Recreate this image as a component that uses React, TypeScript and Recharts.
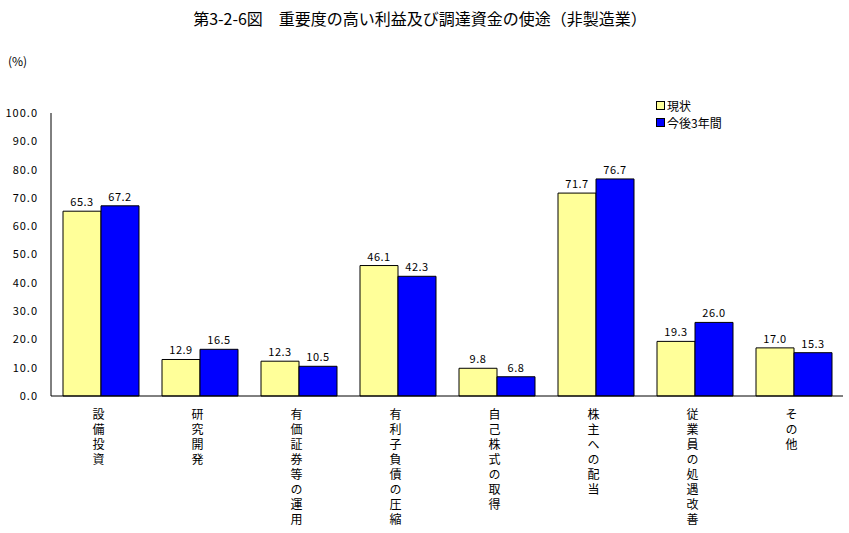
import React from 'react';
import { BarChart, Bar, XAxis, YAxis, LabelList } from 'recharts';

const categories = ['設備投資', '研究開発', '有価証券等の運用', '有利子負債の圧縮', '自己株式の取得', '株主への配当', '従業員の処遇改善', 'その他'];
const current = [65.3, 12.9, 12.3, 46.1, 9.8, 71.7, 19.3, 17.0];
const next3 = [67.2, 16.5, 10.5, 42.3, 6.8, 76.7, 26.0, 15.3];
const yTicks = [0, 10, 20, 30, 40, 50, 60, 70, 80, 90, 100];

const data = categories.map((name, i) => ({ name, current: current[i], next3: next3[i] }));

const FONT = "'Noto Sans CJK JP', sans-serif";

const VerticalTick = (props: any) => {
    const { x, y, payload } = props;
    return (
        <text x={x - 2} y={y + 4} fontSize={12} fill="#000" fontFamily={FONT}
            style={{ writingMode: 'vertical-rl', textOrientation: 'upright', letterSpacing: 3 }}>
            {payload.value}
        </text>
    );
};

const LegendBox = () => (
    <div style={{ position: 'absolute', left: 656, top: 97, fontFamily: FONT, fontSize: 12, lineHeight: '17px', color: '#000' }}>
        {[['#FFFF99', '現状'], ['#0000FF', '今後3年間']].map(([c, t]) => (
            <div key={t} style={{ display: 'flex', alignItems: 'center' }}>
                <span style={{ display: 'inline-block', width: 7, height: 7, background: c, border: '1px solid #000', marginRight: 2 }} />
                {t}
            </div>
        ))}
    </div>
);

const labelStyle = { fontSize: 11, fill: '#000', fontFamily: FONT, letterSpacing: 0.5 };

export default function App() {
    return (
        <div style={{ position: 'absolute', left: 0, top: 0, width: 849, height: 533, background: '#fff' }}>
            <div style={{ position: 'absolute', top: 6, left: 0, width: 840, textAlign: 'center', fontFamily: FONT, fontSize: 16, color: '#000' }}>
                第3-2-6図　重要度の高い利益及び調達資金の使途（非製造業）
            </div>
            <div style={{ position: 'absolute', top: 52, left: 8, fontFamily: FONT, fontSize: 12, color: '#000' }}>(%)</div>
            <LegendBox />
            <BarChart width={849} height={533} data={data} barGap={0} barCategoryGap={12}
                margin={{ top: 113, right: 6, left: 0, bottom: 0 }}>
                <XAxis dataKey="name" height={137} tickLine={false} tick={<VerticalTick />} interval={0}
                    axisLine={{ stroke: '#000' }} />
                <YAxis width={51} domain={[0, 100]} ticks={yTicks} tickLine={false} axisLine={{ stroke: '#000' }}
                    tickMargin={7} interval={0}
                    tick={{ fontSize: 11, fill: '#000', fontFamily: FONT, letterSpacing: 1 }}
                    tickFormatter={(v: number) => v.toFixed(1)} />
                <Bar dataKey="current" name="現状" fill="#FFFF99" stroke="#000" strokeWidth={1} isAnimationActive={false}>
                    <LabelList dataKey="current" position="top" offset={5} formatter={(v: any) => Number(v).toFixed(1)}
                        style={labelStyle} />
                </Bar>
                <Bar dataKey="next3" name="今後3年間" fill="#0000FF" stroke="#000" strokeWidth={1} isAnimationActive={false}>
                    <LabelList dataKey="next3" position="top" offset={5} formatter={(v: any) => Number(v).toFixed(1)}
                        style={labelStyle} />
                </Bar>
            </BarChart>
        </div>
    );
}
